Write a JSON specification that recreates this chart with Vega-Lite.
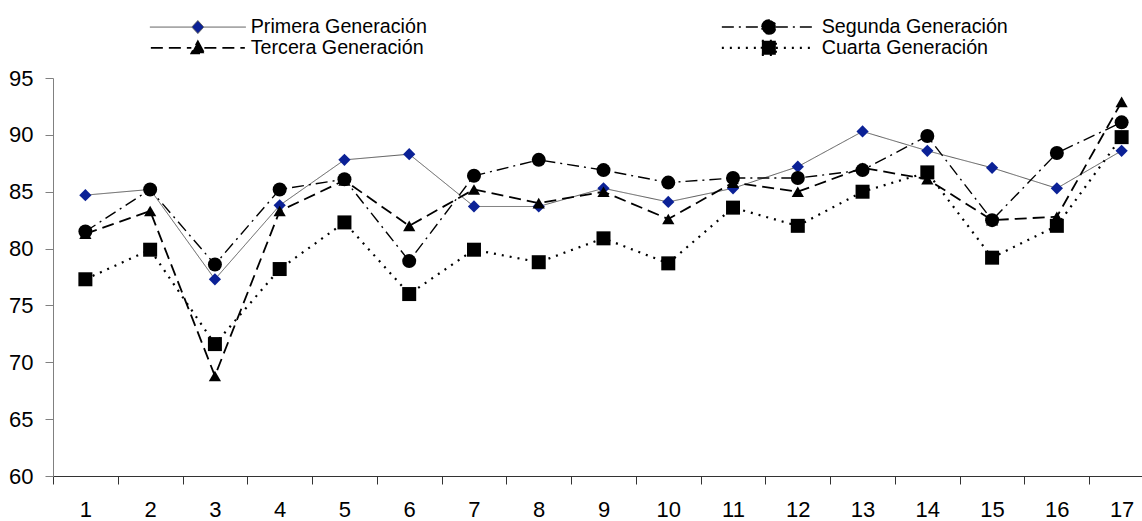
{
  "$schema": "https://vega.github.io/schema/vega-lite/v6.json",
  "width": 1089,
  "height": 398,
  "autosize": {"type": "none"},
  "padding": {"left": 53, "top": 78, "right": 0, "bottom": 45},
  "background": "white",
  "config": {"view": {"stroke": null}, "font": "Liberation Sans"},
  "data": {
    "values": [
      {"serie": "Primera Generación", "gen": 1, "valor": 84.7},
      {"serie": "Primera Generación", "gen": 2, "valor": 85.2},
      {"serie": "Primera Generación", "gen": 3, "valor": 77.3},
      {"serie": "Primera Generación", "gen": 4, "valor": 83.8},
      {"serie": "Primera Generación", "gen": 5, "valor": 87.8},
      {"serie": "Primera Generación", "gen": 6, "valor": 88.3},
      {"serie": "Primera Generación", "gen": 7, "valor": 83.7},
      {"serie": "Primera Generación", "gen": 8, "valor": 83.7},
      {"serie": "Primera Generación", "gen": 9, "valor": 85.3},
      {"serie": "Primera Generación", "gen": 10, "valor": 84.1},
      {"serie": "Primera Generación", "gen": 11, "valor": 85.3},
      {"serie": "Primera Generación", "gen": 12, "valor": 87.2},
      {"serie": "Primera Generación", "gen": 13, "valor": 90.3},
      {"serie": "Primera Generación", "gen": 14, "valor": 88.6},
      {"serie": "Primera Generación", "gen": 15, "valor": 87.1},
      {"serie": "Primera Generación", "gen": 16, "valor": 85.3},
      {"serie": "Primera Generación", "gen": 17, "valor": 88.6},
      {"serie": "Tercera Generación", "gen": 1, "valor": 81.3},
      {"serie": "Tercera Generación", "gen": 2, "valor": 83.3},
      {"serie": "Tercera Generación", "gen": 3, "valor": 68.8},
      {"serie": "Tercera Generación", "gen": 4, "valor": 83.3},
      {"serie": "Tercera Generación", "gen": 5, "valor": 86.0},
      {"serie": "Tercera Generación", "gen": 6, "valor": 82.0},
      {"serie": "Tercera Generación", "gen": 7, "valor": 85.2},
      {"serie": "Tercera Generación", "gen": 8, "valor": 84.0},
      {"serie": "Tercera Generación", "gen": 9, "valor": 85.0},
      {"serie": "Tercera Generación", "gen": 10, "valor": 82.6},
      {"serie": "Tercera Generación", "gen": 11, "valor": 85.8},
      {"serie": "Tercera Generación", "gen": 12, "valor": 85.0},
      {"serie": "Tercera Generación", "gen": 13, "valor": 87.1},
      {"serie": "Tercera Generación", "gen": 14, "valor": 86.1},
      {"serie": "Tercera Generación", "gen": 15, "valor": 82.5},
      {"serie": "Tercera Generación", "gen": 16, "valor": 82.8},
      {"serie": "Tercera Generación", "gen": 17, "valor": 92.9},
      {"serie": "Cuarta Generación", "gen": 1, "valor": 77.3},
      {"serie": "Cuarta Generación", "gen": 2, "valor": 79.9},
      {"serie": "Cuarta Generación", "gen": 3, "valor": 71.6},
      {"serie": "Cuarta Generación", "gen": 4, "valor": 78.2},
      {"serie": "Cuarta Generación", "gen": 5, "valor": 82.3},
      {"serie": "Cuarta Generación", "gen": 6, "valor": 76.0},
      {"serie": "Cuarta Generación", "gen": 7, "valor": 79.9},
      {"serie": "Cuarta Generación", "gen": 8, "valor": 78.8},
      {"serie": "Cuarta Generación", "gen": 9, "valor": 80.9},
      {"serie": "Cuarta Generación", "gen": 10, "valor": 78.7},
      {"serie": "Cuarta Generación", "gen": 11, "valor": 83.6},
      {"serie": "Cuarta Generación", "gen": 12, "valor": 82.0},
      {"serie": "Cuarta Generación", "gen": 13, "valor": 85.0},
      {"serie": "Cuarta Generación", "gen": 14, "valor": 86.7},
      {"serie": "Cuarta Generación", "gen": 15, "valor": 79.2},
      {"serie": "Cuarta Generación", "gen": 16, "valor": 82.0},
      {"serie": "Cuarta Generación", "gen": 17, "valor": 89.8},
      {"serie": "Segunda Generación", "gen": 1, "valor": 81.5},
      {"serie": "Segunda Generación", "gen": 2, "valor": 85.2},
      {"serie": "Segunda Generación", "gen": 3, "valor": 78.6},
      {"serie": "Segunda Generación", "gen": 4, "valor": 85.2},
      {"serie": "Segunda Generación", "gen": 5, "valor": 86.1},
      {"serie": "Segunda Generación", "gen": 6, "valor": 78.9},
      {"serie": "Segunda Generación", "gen": 7, "valor": 86.4},
      {"serie": "Segunda Generación", "gen": 8, "valor": 87.8},
      {"serie": "Segunda Generación", "gen": 9, "valor": 86.9},
      {"serie": "Segunda Generación", "gen": 10, "valor": 85.8},
      {"serie": "Segunda Generación", "gen": 11, "valor": 86.2},
      {"serie": "Segunda Generación", "gen": 12, "valor": 86.2},
      {"serie": "Segunda Generación", "gen": 13, "valor": 86.9},
      {"serie": "Segunda Generación", "gen": 14, "valor": 89.9},
      {"serie": "Segunda Generación", "gen": 15, "valor": 82.5},
      {"serie": "Segunda Generación", "gen": 16, "valor": 88.4},
      {"serie": "Segunda Generación", "gen": 17, "valor": 91.1}
    ]
  },
  "encoding": {
    "x": {
      "field": "gen",
      "type": "ordinal",
      "scale": {"type": "band", "range": [0, 1101], "paddingInner": 0, "paddingOuter": 0},
      "axis": {
        "title": null,
        "labelAngle": 0,
        "tickBand": "extent",
        "domainColor": "#333333",
        "tickColor": "#333333",
        "tickSize": 8,
        "labelFont": "Liberation Sans",
        "labelFontSize": 22,
        "labelColor": "black",
        "labelPadding": 15,
        "grid": false
      }
    },
    "y": {
      "field": "valor",
      "type": "quantitative",
      "scale": {"domain": [60, 95], "nice": false, "zero": false},
      "axis": {
        "title": null,
        "values": [60, 65, 70, 75, 80, 85, 90, 95],
        "domainColor": "#808080",
        "tickColor": "#808080",
        "tickSize": 8,
        "labelFont": "Liberation Sans",
        "labelFontSize": 22,
        "labelColor": "black",
        "labelPadding": 12,
        "grid": false
      }
    }
  },
  "layer": [
    {
      "mark": {"type": "line", "interpolate": "linear"},
      "encoding": {
        "color": {
          "field": "serie",
          "type": "nominal",
          "scale": {
            "domain": ["Primera Generación", "Segunda Generación", "Tercera Generación", "Cuarta Generación"],
            "range": ["#5a5a5a", "#000000", "#000000", "#000000"]
          },
          "legend": {
            "orient": "none",
            "legendX": 89,
            "legendY": -61,
            "columns": 2,
            "direction": "horizontal",
            "title": null,
            "padding": 0,
            "columnPadding": 286,
            "rowPadding": -1,
            "labelFont": "Liberation Sans",
            "labelFontSize": 19.7,
            "labelLimit": 0,
            "labelColor": "black",
            "labelOffset": 43,
            "symbolOffset": 46,
            "symbolSize": 100,
            "symbolStrokeWidth": 2,
            "encode": {
              "symbols": {
                "update": {
                  "shape": {"signal": "datum.value === 'Primera Generación' ? 'M-9.6,0H-1.2M1.2,0H9.6M0,-1.3L1.2,0L0,1.3L-1.2,0Z' : datum.value === 'Segunda Generación' ? 'M-9.4,0H-1.4M1.4,0H9.4M-1.4,0A1.4,1.4,0,1,1,1.4,0A1.4,1.4,0,1,1,-1.4,0Z' : datum.value === 'Tercera Generación' ? 'M-9.4,0H-1.3M1.3,0H9.4M0,-1.3L1.3,1.1L-1.3,1.1Z' : 'M-9.4,0H-1.4M1.4,0H9.4M-1.4,-1.4H1.4V1.4H-1.4Z'"},
                  "fill": {"signal": "datum.value === 'Primera Generación' ? '#0b2196' : 'black'"},
                  "strokeWidth": {"signal": "datum.value === 'Primera Generación' ? 1 : 2"}
                }
              }
            }
          }
        },
        "strokeDash": {
          "field": "serie",
          "type": "nominal",
          "scale": {
            "domain": ["Primera Generación", "Segunda Generación", "Tercera Generación", "Cuarta Generación"],
            "range": [[1, 0], [12, 5, 2, 5], [12, 6], [2, 6]]
          }
        },
        "strokeWidth": {
          "field": "serie",
          "type": "nominal",
          "scale": {
            "domain": ["Primera Generación", "Segunda Generación", "Tercera Generación", "Cuarta Generación"],
            "range": [1, 2.2, 2.2, 2]
          },
          "legend": null
        }
      }
    },
    {
      "transform": [{"filter": "datum.serie === 'Primera Generación'"}],
      "mark": {"type": "point", "shape": "diamond", "filled": true, "opacity": 1, "color": "#0b2196", "size": 150}
    },
    {
      "transform": [{"filter": "datum.serie === 'Tercera Generación'"}],
      "mark": {"type": "point", "shape": "triangle-up", "filled": true, "opacity": 1, "color": "#000000", "size": 150}
    },
    {
      "transform": [{"filter": "datum.serie === 'Cuarta Generación'"}],
      "mark": {"type": "point", "shape": "square", "filled": true, "opacity": 1, "color": "#000000", "size": 196}
    },
    {
      "transform": [{"filter": "datum.serie === 'Segunda Generación'"}],
      "mark": {"type": "point", "shape": "circle", "filled": true, "opacity": 1, "color": "#000000", "size": 196}
    }
  ]
}
